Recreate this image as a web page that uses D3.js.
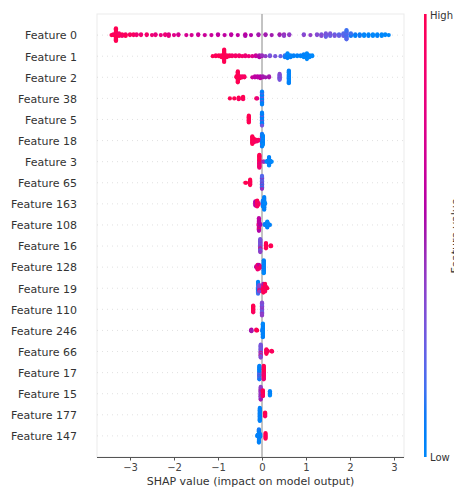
<!DOCTYPE html>
<html>
<head>
<meta charset="utf-8">
<script src="https://cdn.jsdelivr.net/npm/d3@7"></script>
<style>
  body { margin: 0; background: #fff; }
  svg { display: block; font-family: "DejaVu Sans", sans-serif; }
</style>
</head>
<body>
<div id="chart"></div>
<script>
// noms des features, du haut vers le bas
const features = ["Feature 0", "Feature 1", "Feature 2", "Feature 38", "Feature 5", "Feature 18",
  "Feature 3", "Feature 65", "Feature 163", "Feature 108", "Feature 16", "Feature 128",
  "Feature 19", "Feature 110", "Feature 246", "Feature 66", "Feature 17", "Feature 15",
  "Feature 177", "Feature 147"]

const xTicks = [-3, -2, -1, 0, 1, 2, 3]

// points [valeur SHAP, valeur de la feature (0 = bas, 1 = haut)]
const f0 = [[-3.42,1],[-3.38,1],[-3.38,.95],
  [-3.32,1],[-3.32,1],[-3.32,.95],[-3.32,1],[-3.32,1],[-3.32,.95],[-3.32,1],[-3.32,1],
  [-3.32,1],[-3.32,.95],[-3.32,1],[-3.32,1],[-3.32,.95],[-3.32,1],[-3.32,1],[-3.32,1],
  [-3.25,1],[-3.25,.95],[-3.25,1],[-3.25,.9],[-3.18,.95],[-3.18,1],[-3.18,.9],
  [-3.1,.95],[-3.1,.9],[-3.1,1],[-3.0,.9],[-3.0,.95],[-2.92,.9],[-2.92,.95],
  [-2.85,.9],[-2.85,.85],[-2.75,.9],[-2.75,.85],[-2.62,.85],[-2.62,.9],[-2.5,.85],
  [-2.42,.85],[-2.42,.8],[-2.3,.8],[-2.2,.8],[-2.2,.85],[-2.12,.8],[-2.12,.75],[-2.12,.8],
  [-2.0,.75],[-1.9,.75],[-1.9,.7],[-1.72,.7],[-1.6,.7],[-1.45,.7],[-1.45,.65],[-1.3,.65],
  [-1.15,.65],[-1.0,.65],[-1.0,.6],[-0.85,.6],[-0.7,.6],[-0.7,.6],[-0.55,.6],
  [-0.38,.55],[-0.38,.6],[-0.38,.55],[-0.25,.55],[-0.08,.55],[-0.08,.5],[0.08,.5],[0.08,.5],
  [0.22,.5],[0.4,.45],[0.4,.5],[0.5,.45],[0.5,.45],[0.5,.4],[0.62,.45],[0.62,.4],
  [0.95,.4],[0.95,.35],[1.1,.4],[1.25,.35],[1.25,.35],[1.35,.35],[1.35,.3],[1.35,.35],
  [1.45,.3],[1.45,.35],[1.45,.3],[1.45,.3],[1.45,.25],[1.55,.3],[1.55,.3],[1.55,.25],[1.55,.3],
  [1.65,.25],[1.65,.25],[1.65,.3],[1.75,.25],[1.75,.2],[1.75,.25],
  [1.85,.2],[1.85,.2],[1.85,.25],[1.85,.2],
  [1.92,.2],[1.92,.15],[1.92,.2],[1.92,.2],[1.92,.15],[1.92,.2],[1.92,.15],[1.92,.2],
  [1.92,.2],[1.92,.15],[1.92,.2],[1.92,.15],
  [2.02,.15],[2.02,.15],[2.02,.1],[2.02,.15],[2.12,.1],[2.12,.1],[2.12,.05],
  [2.22,.1],[2.22,.05],[2.22,.1],[2.32,.05],[2.32,.05],[2.32,0],[2.42,.05],[2.42,0],[2.42,.05],
  [2.52,.05],[2.52,0],[2.52,0],[2.62,0],[2.62,0],[2.62,.05],[2.72,0],[2.72,0],[2.72,0],
  [2.8,0],[2.8,0],[2.88,0]]

const f1 = [[-1.12,1],[-1.05,1],[-1.05,.95],[-0.98,1],[-0.98,1],[-0.92,1],[-0.92,.95],[-0.92,1],
  [-0.86,1],[-0.86,1],[-0.86,.95],[-0.86,1],[-0.86,1],[-0.86,1],[-0.86,.95],[-0.86,1],
  [-0.86,1],[-0.86,1],[-0.86,.95],[-0.86,1],[-0.86,1],[-0.86,1],
  [-0.8,1],[-0.8,.95],[-0.8,1],[-0.74,.95],[-0.74,1],[-0.68,.95],[-0.68,.9],
  [-0.6,.95],[-0.6,.9],[-0.52,.9],[-0.52,.9],[-0.45,.9],[-0.38,.85],[-0.38,.85],[-0.3,.85],
  [-0.22,.75],[-0.14,.6],[-0.14,.65],[-0.06,.55],[-0.06,.5],[-0.06,.55],[0.0,.5],[0.0,.45],
  [0.08,.4],[0.18,.35],[0.18,.3],[0.3,.3],[0.42,.25],[0.52,.1],[0.52,.15],[0.52,.1],
  [0.58,.05],[0.58,.05],[0.58,0],[0.58,.05],[0.58,.05],[0.58,0],[0.65,.05],[0.65,0],[0.65,.05],
  [0.72,0],[0.72,.05],[0.8,0],[0.8,.05],[0.88,0],[0.88,.05],
  [0.95,0],[0.95,.05],[0.95,0],[0.95,.05],[1.02,0],[1.02,.05],[1.02,0],[1.02,0],[1.02,.05],
  [1.02,0],[1.02,0],[1.08,0],[1.08,.05],[1.08,0],[1.14,0],[1.14,0]]

const f2 = [[-0.58,1],[-0.58,1],
  [-0.55,1],[-0.55,1],[-0.55,.95],[-0.55,1],[-0.55,1],[-0.55,1],[-0.55,.95],[-0.55,1],
  [-0.55,1],[-0.55,1],[-0.55,1],[-0.55,.95],[-0.55,1],[-0.55,1],
  [-0.5,1],[-0.5,.95],[-0.5,1],[-0.45,.95],[-0.45,.9],[-0.4,.9],[-0.4,.95],
  [-0.22,.65],[-0.16,.6],[-0.16,.6],[-0.1,.55],[-0.1,.6],[-0.04,.55],[-0.04,.55],[-0.04,.6],
  [0.02,.55],[0.02,.5],[0.08,.5],[0.16,.55],[0.16,.5],
  [0.4,.3],[0.4,.35],[0.4,.3],[0.4,.3],[0.4,.35],[0.4,.3],[0.4,.3],[0.4,.35],
  [0.61,.05],[0.61,0],[0.61,.05],[0.61,.05],[0.61,0],[0.61,.05],[0.61,.05],[0.61,0],
  [0.61,.05],[0.61,.05],[0.61,0],[0.61,.05],[0.61,.05],[0.61,0],[0.61,.05],[0.61,.05]]

const f38 = [[-0.73,1],[-0.63,1],[-0.53,1],[-0.53,1],[-0.53,.95],[-0.43,1],[-0.43,1],[-0.43,.95],
  [-0.43,1],[-0.13,1],[-0.11,.8],
  [0.0,.05],[0.0,.3],[0.0,.05],[0.0,.1],[0.0,.05],[0.0,.35],[0.0,.05],[0.0,.1],[0.0,.05],
  [0.0,.05],[0.0,.3],[0.0,.05],[0.0,.1],[0.0,.05],[0.0,.05],[0.0,.3],[0.0,.05],[0.0,.05]]

const f5 = [[-0.3,1],[-0.3,1],[-0.3,.95],[-0.3,1],[-0.3,1],[-0.3,1],[-0.3,.95],[-0.3,1],[-0.3,1],
  [-0.3,1],
  [0.0,.05],[0.0,.3],[0.0,.05],[0.0,.1],[0.0,.05],[0.0,.05],[0.0,.35],[0.0,.05],[0.0,.1],
  [0.0,.05],[0.0,.05],[0.0,.3],[0.0,.05],[0.0,.1],[0.0,.05],[0.0,.05],[0.0,.3],[0.0,.05]]

const f18 = [[-0.22,1],[-0.22,1],[-0.22,.95],[-0.22,1],[-0.22,1],[-0.22,1],[-0.22,.95],[-0.22,1],
  [-0.22,1],[-0.22,1],[-0.18,1],[-0.18,.95],[-0.18,1],[-0.18,1],[-0.18,.95],
  [-0.12,.95],[-0.12,1],[-0.12,.9],[-0.08,.9],[-0.08,.95],
  [0.0,.35],[0.0,.05],[0.0,.4],[0.0,.1],[0.0,.05],[0.0,.45],[0.0,.05],[0.0,.3],
  [0.0,.05],[0.0,.5],[0.0,.05],[0.0,.1],[0.0,.4],[0.0,.05],[0.0,.05],[0.0,.1],
  [0.02,.05],[0.02,0],[0.02,.05],[0.02,.05],[0.02,0],[0.02,.05],[0.02,.05],[0.02,0],
  [0.02,.05],[0.02,.05],[0.02,0],[0.02,.05]]

const f3 = [[-0.06,1],[-0.06,.85],[-0.06,1],[-0.06,.7],[-0.06,1],[-0.06,.95],[-0.06,.8],
  [-0.06,1],[-0.06,.75],[-0.06,1],[-0.06,.9],[-0.06,1],[-0.06,.8],[-0.06,1],[-0.06,.95],
  [-0.06,1],[-0.06,.85],[-0.06,1],
  [0.03,.5],[0.05,.45],[0.1,.05],[0.12,.05],[0.12,0],
  [0.16,.05],[0.16,0],[0.16,.05],[0.16,.05],[0.16,0],[0.16,.05],[0.16,.05],[0.16,0],
  [0.16,.05],[0.16,.05],[0.16,0],[0.16,.05],[0.19,.05],[0.19,0],[0.19,.05],[0.22,0]]

const f65 = [[-0.38,1],[-0.36,1],[-0.27,1],[-0.27,.95],[-0.27,1],[-0.27,1],[-0.27,.95],[-0.27,1],
  [-0.27,1],[-0.27,1],
  [0.0,.2],[0.0,.45],[0.0,.1],[0.0,.2],[0.0,.5],[0.0,.15],[0.0,.2],[0.0,.4],[0.0,.1],
  [0.0,.2],[0.0,.45],[0.0,.15],[0.0,.2],[0.0,.5],[0.0,.1],[0.0,.2],[0.0,.45],[0.0,.2]]

const f163 = [[-0.15,.6],[-0.15,.55],[-0.15,.6],[-0.15,.65],[-0.15,.6],[-0.15,.55],
  [-0.11,.9],[-0.11,.95],[-0.11,.85],[-0.11,1],[-0.11,.9],[-0.11,.95],[-0.11,.9],[-0.11,1],
  [-0.08,.9],[-0.08,.85],[-0.08,.95],
  [0.02,.05],[0.02,.1],[0.02,.05],[0.02,.05],[0.02,.1],[0.02,.05],[0.02,.05],[0.02,.1],
  [0.05,.05],[0.05,0],[0.05,.05],[0.05,.05],[0.05,0],[0.05,.05],[0.05,.05],[0.05,0],
  [0.05,.05],[0.05,.05],[0.05,0],[0.05,.05],[0.05,.05],[0.05,0],[0.05,.05],[0.05,.05],
  [0.07,.05],[0.07,0]]

const f108 = [[-0.08,.95],[-0.07,.6],[-0.07,.55],[-0.07,.65],[-0.07,.9],[-0.07,.6],[-0.07,.55],
  [-0.07,.6],[-0.07,.65],[-0.07,.95],[-0.07,.6],[-0.07,.55],[-0.07,.6],[-0.07,.9],[-0.07,.6],
  [-0.07,.55],[-0.07,.6],[-0.04,.6],[-0.04,.55],
  [0.06,.05],[0.06,.1],[0.09,.05],[0.09,.05],[0.12,.05],[0.12,0],[0.12,.05],[0.12,.05],
  [0.12,0],[0.12,.05],[0.12,.05],[0.12,0],[0.15,.05],[0.15,0],[0.18,.05]]

const f16 = [[-0.04,.4],[-0.04,.25],[-0.04,.45],[-0.04,.3],[-0.04,.2],[-0.04,.4],[-0.04,.9],
  [-0.04,.3],[-0.04,.45],[-0.04,.25],[-0.04,.4],[-0.04,.3],[-0.04,.2],[-0.04,.4],[-0.04,.35],
  [-0.04,.25],[-0.04,.4],[-0.04,.3],
  [0.09,1],[0.09,.95],[0.09,1],[0.09,1],[0.09,.95],[0.09,1],[0.09,1],[0.09,1],
  [0.19,1],[0.2,1],[0.2,.95],[0.21,1]]

const f128 = [[-0.13,.6],[-0.13,.55],[-0.1,.9],[-0.1,.85],[-0.1,.9],[-0.1,.95],[-0.1,.8],
  [-0.1,.9],[-0.1,.85],[-0.07,.9],[-0.07,.8],[-0.07,.95],[-0.07,.85],[-0.07,.9],[-0.07,.6],
  [-0.03,.85],[-0.03,.9],
  [0.04,.05],[0.04,0],[0.04,.05],[0.04,.05],[0.04,0],[0.04,.05],[0.04,.1],[0.04,0],
  [0.04,.05],[0.04,.05],[0.04,0],[0.04,.05],[0.04,.05],[0.04,0],[0.04,.05],[0.04,.05],
  [0.04,0],[0.04,.05]]

const f19 = [[-0.09,.1],[-0.09,.15],[-0.09,.05],[-0.09,.2],[-0.09,.1],[-0.09,.15],[-0.09,.05],
  [-0.09,.1],[-0.09,.2],[-0.09,.1],[-0.09,.15],[-0.09,.05],
  [-0.06,.4],[-0.06,.35],[-0.06,.45],[-0.06,.4],[-0.06,.9],[-0.06,.35],[-0.06,.4],
  [0.03,1],[0.03,.95],[0.03,1],[0.03,.9],[0.03,1],[0.03,.95],[0.03,1],[0.03,.5],[0.03,1],
  [0.07,1],[0.07,.95],[0.07,1],[0.07,1],[0.07,.9],[0.07,1],[0.07,.95],[0.07,1],
  [0.1,1],[0.1,.95],[0.12,1]]

const f110 = [[-0.2,1],[-0.2,.95],[-0.2,1],[-0.2,1],[-0.2,.95],[-0.2,1],[-0.2,1],[-0.2,1],
  [-0.2,.95],[-0.2,1],
  [0.0,.35],[0.0,.3],[0.0,.4],[0.0,.25],[0.0,.35],[0.0,.45],[0.0,.3],[0.0,.35],[0.0,.2],
  [0.0,.4],[0.0,.3],[0.0,.35],[0.0,.45],[0.0,.25],[0.0,.35],[0.0,.3],[0.0,.4],[0.0,.35]]

const f246 = [[-0.25,.55],[-0.24,.5],[-0.24,.55],[-0.24,.5],[-0.13,1],[-0.13,1],[-0.11,1],
  [0.01,.3],[0.01,.05],[0.01,.1],[0.02,.05],[0.02,.05],[0.02,0],[0.02,.05],[0.02,.05],
  [0.02,0],[0.02,.05],[0.02,.05],[0.02,0],[0.02,.05],[0.02,.05],[0.02,0],[0.02,.05],
  [0.02,.05],[0.02,0],[0.02,.05],[0.02,.05],[0.02,0],[0.02,.05]]

const f66 = [[-0.03,.3],[-0.03,.35],[-0.03,.25],[-0.03,.3],[-0.03,.9],[-0.03,.35],[-0.03,.3],
  [-0.03,.25],[-0.03,.35],[-0.03,.3],[-0.03,.9],[-0.03,.25],[-0.03,.35],[-0.03,.3],
  [-0.03,.25],[-0.03,.3],[-0.03,.35],[-0.03,.3],
  [0.1,1],[0.1,.95],[0.1,1],[0.1,1],[0.1,.95],[0.1,1],[0.1,1],[0.13,1],[0.13,.95],
  [0.22,1],[0.22,1],[0.23,.95]]

const f17 = [[-0.06,.05],[-0.06,.1],[-0.06,.35],[-0.06,.05],[-0.06,.1],[-0.06,.05],
  [-0.06,.3],[-0.06,.05],[-0.06,.1],[-0.06,.05],[-0.06,.35],[-0.06,.05],[-0.06,.1],
  [-0.06,.05],[-0.06,.3],[-0.06,.05],[-0.06,.1],
  [0.04,1],[0.04,.9],[0.04,1],[0.04,.95],[0.04,.8],[0.04,1],[0.04,.95],[0.04,1],
  [0.04,.85],[0.04,1],[0.04,.95],[0.04,1],[0.04,.9],[0.04,1],[0.04,.95],[0.04,1],[0.04,.85]]

const f15 = [[-0.03,.45],[-0.03,.4],[-0.03,.5],[-0.03,.45],[-0.03,.35],[-0.03,.45],[-0.03,.5],
  [-0.03,.4],[-0.03,.45],[-0.03,.5],[-0.03,.4],[-0.03,.45],[-0.03,.35],[-0.03,.45],[-0.03,.5],
  [-0.03,.4],
  [0.02,1],[0.02,.95],[0.02,1],[0.02,1],[0.02,.9],[0.02,1],[0.02,.95],[0.02,1],
  [0.18,.05],[0.18,0],[0.18,.05],[0.18,.05],[0.18,0],[0.18,.05]]

const f177 = [[-0.05,.05],[-0.05,0],[-0.05,.05],[-0.05,.1],[-0.05,.05],[-0.05,0],[-0.05,.05],
  [-0.05,.05],[-0.05,.1],[-0.05,.05],[-0.05,0],[-0.05,.05],[-0.05,.05],[-0.05,.1],
  [-0.05,.05],[-0.05,0],[-0.05,.05],[-0.05,.05],
  [0.07,1],[0.07,.95],[0.07,1],[0.07,1],[0.07,.95],[0.07,1]]

const f147 = [[-0.11,.05],[-0.1,0],[-0.1,.05],[-0.07,.05],[-0.07,0],[-0.07,.05],[-0.07,.1],
  [-0.07,.05],[-0.07,0],[-0.07,.05],[-0.07,.05],[-0.07,.1],[-0.07,.05],[-0.07,0],[-0.07,.05],
  [-0.07,.05],[-0.07,.1],[-0.07,.05],[-0.04,.05],[-0.04,0],[-0.04,.05],[-0.04,.05],
  [0.08,1],[0.08,.95],[0.08,1],[0.08,1],[0.08,.95],[0.08,1],[0.08,1]]

const rows = [f0, f1, f2, f38, f5, f18, f3, f65, f163, f108, f16, f128, f19, f110, f246,
  f66, f17, f15, f177, f147]

//------------------------------------------------------------------------------

const W = 454, H = 490
const plot = { left: 97, right: 404, top: 14, bottom: 457 }
const nRows = features.length

const svg = d3.select("#chart").append("svg")
    .attr("width", W)
    .attr("height", H)

const x = d3.scaleLinear().domain([-3.75, 3.227]).range([plot.left, plot.right])
// comme shap : ylim(-1, N), la feature la plus importante en haut
const y = d3.scaleLinear().domain([-1, nRows]).range([plot.bottom, plot.top])
const rowY = i => y(nRows - 1 - i)
const rowStep = y(0) - y(1)

// carte de couleurs bleu -> rouge en LCh, avec un creux de luminance au milieu (comme shap)
const redBlue = t => {
    const l = t < 0.5 ? 54 - 28 * t : 40 + 28 * (t - 0.5)
    return d3.hcl(266.9 + 113.4 * t, 70 + 20 * t, l).formatHex()
}
const color = d3.scaleSequential(redBlue).domain([0, 1])

// cadre très clair
svg.append("rect")
    .attr("x", plot.left).attr("y", plot.top)
    .attr("width", plot.right - plot.left).attr("height", plot.bottom - plot.top)
    .attr("fill", "none").attr("stroke", "#ebebeb").attr("stroke-width", 1)

// lignes pointillées de chaque ligne
svg.append("g").selectAll("line")
    .data(features)
    .join("line")
    .attr("x1", plot.left).attr("x2", plot.right)
    .attr("y1", (d, i) => rowY(i)).attr("y2", (d, i) => rowY(i))
    .attr("stroke", "#cccccc").attr("stroke-width", 0.6)
    .attr("stroke-dasharray", "1,4")

// ligne verticale à zéro
svg.append("line")
    .attr("x1", x(0)).attr("x2", x(0))
    .attr("y1", plot.top).attr("y2", plot.bottom)
    .attr("stroke", "#aaaaaa").attr("stroke-width", 1.4)

//------------------------------------------------------------------------------

// disposition beeswarm à la manière de shap (bins + empilement alterné)
function swarm(points) {
    const n = points.length
    const vals = points.map(p => p[0])
    const lo = d3.min(vals), hi = d3.max(vals)
    const nbins = 100
    const q = vals.map(v => Math.round(nbins * (v - lo) / (hi - lo + 1e-8)))
    const order = d3.range(n).sort((a, b) => q[a] - q[b] || a - b)
    const ys = new Array(n).fill(0)
    let layer = 0, last = null
    order.forEach(i => {
        if (q[i] !== last) { layer = 0; last = q[i] }
        ys[i] = Math.ceil(layer / 2) * ((layer % 2) * 2 - 1)
        layer++
    })
    const m = d3.max(ys.map(v => v + 1))
    return ys.map(v => v * 0.9 * (0.4 / m))
}

const dots = svg.append("g")
rows.forEach((pts, i) => {
    const off = swarm(pts)
    dots.append("g").selectAll("circle")
        .data(pts)
        .join("circle")
        .attr("cx", d => x(d[0]))
        .attr("cy", (d, j) => rowY(i) - off[j] * rowStep)
        .attr("r", 2.1)
        .attr("fill", d => color(d[1]))
})

//------------------------------------------------------------------------------

// noms des features
svg.append("g").selectAll("text")
    .data(features)
    .join("text")
    .attr("x", plot.left - 20)
    .attr("y", (d, i) => rowY(i) + 0.5)
    .attr("dy", "0.35em")
    .attr("text-anchor", "end")
    .attr("font-size", 11)
    .attr("fill", "#333")
    .text(d => d)

// axe x
const xAxis = svg.append("g")
    .attr("transform", "translate(0," + plot.bottom + ")")
    .call(d3.axisBottom(x).tickValues(xTicks).tickSize(3.5).tickPadding(3)
        .tickFormat(d => d < 0 ? "\u2212" + Math.abs(d) : d))
xAxis.select(".domain").attr("stroke", "#555").attr("d", "M" + plot.left + ",0.5H" + plot.right)
xAxis.selectAll(".tick line").attr("stroke", "#555")
xAxis.selectAll(".tick text")
    .attr("font-size", 10).attr("fill", "#444")
    .attr("font-family", "DejaVu Sans, sans-serif")

svg.append("text")
    .attr("x", (plot.left + plot.right) / 2)
    .attr("y", 485)
    .attr("text-anchor", "middle")
    .attr("font-size", 11)
    .attr("fill", "#333")
    .text("SHAP value (impact on model output)")

//------------------------------------------------------------------------------

// barre de couleur
const defs = svg.append("defs")
const grad = defs.append("linearGradient")
    .attr("id", "cbar").attr("x1", 0).attr("y1", 1).attr("x2", 0).attr("y2", 0)
d3.range(0, 1.0001, 0.05).forEach(t => {
    grad.append("stop").attr("offset", t).attr("stop-color", color(t))
})
svg.append("rect")
    .attr("x", 424).attr("y", 14)
    .attr("width", 2.6).attr("height", 443)
    .attr("fill", "url(#cbar)")

svg.append("text").attr("x", 430).attr("y", 15).attr("dy", "0.35em")
    .attr("font-size", 10).attr("fill", "#333").text("High")
svg.append("text").attr("x", 430).attr("y", 457).attr("dy", "0.35em")
    .attr("font-size", 10).attr("fill", "#333").text("Low")
svg.append("text")
    .attr("transform", "translate(459,236) rotate(-90)")
    .attr("text-anchor", "middle")
    .attr("font-size", 11)
    .attr("fill", "#333")
    .text("Feature value")
</script>
</body>
</html>
